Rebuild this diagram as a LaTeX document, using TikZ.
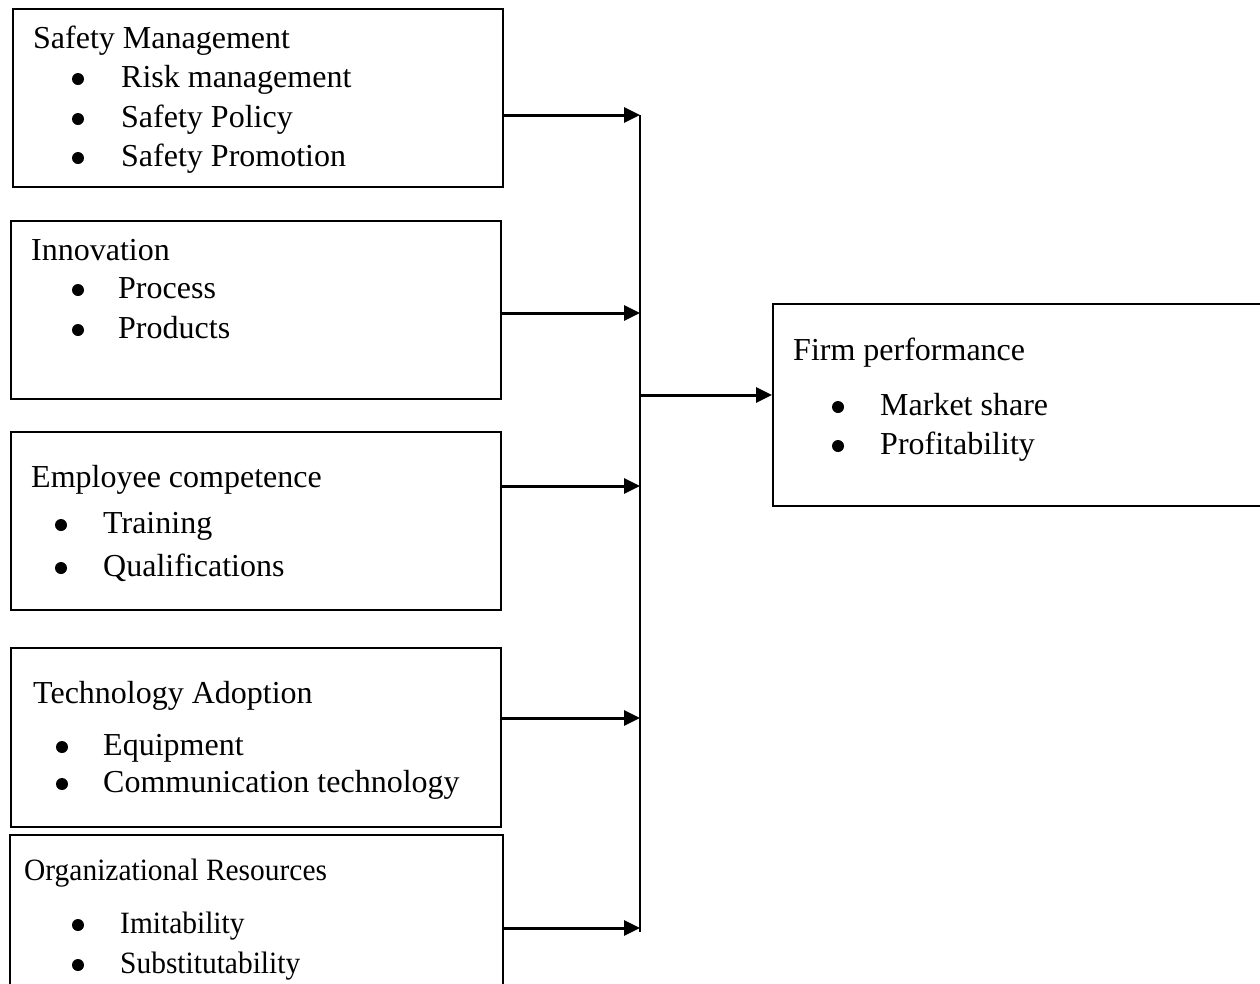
\documentclass[tikz,border=0pt]{standalone}
\usepackage{fontspec}
\setmainfont{Liberation Serif}
\newfontfamily\condfont[FakeStretch=0.95]{Liberation Serif}
\usetikzlibrary{arrows.meta}
\begin{document}
\begin{tikzpicture}[x=1pt,y=-1pt,
  box/.style={draw, line width=2.3pt, anchor=north west, inner sep=0pt},
  txt/.style={anchor=base west, inner sep=0pt, font=\fontsize{32}{38}\selectfont},
  stxt/.style={anchor=base west, inner sep=0pt, font=\condfont\fontsize{31}{36}\selectfont},
  bul/.style={circle, fill, inner sep=0pt, minimum size=12pt},
  link/.style={line width=3pt, -{Triangle[length=16pt,width=15pt]}},
  bus/.style={line width=2.3pt}]
\useasboundingbox (0,0) rectangle (1260,983);
\clip (0,0) rectangle (1260,983);

% boxes
\node[box, minimum width=490pt, minimum height=178pt] (b1) at (12,8) {};
\node[box, minimum width=490pt, minimum height=178pt] (b2) at (10,220) {};
\node[box, minimum width=490pt, minimum height=178pt] (b3) at (10,431) {};
\node[box, minimum width=490pt, minimum height=179pt] (b4) at (10,647) {};
\node[box, minimum width=493pt, minimum height=190pt] (b5) at (9,834) {};
\node[box, minimum width=510pt, minimum height=202pt] (firm) at (772,303) {};

% box 1
\node[txt] (t1) at (33,48) {Safety Management};
\node[bul] (d11) at (78,79) {};
\node[txt] (i11) at (121,87) {Risk management};
\node[bul] (d12) at (78,119) {};
\node[txt] (i12) at (121,127) {Safety Policy};
\node[bul] (d13) at (78,158) {};
\node[txt] (i13) at (121,166) {Safety Promotion};

% box 2
\node[txt] (t2) at (31,260) {Innovation};
\node[bul] (d21) at (78,290) {};
\node[txt] (i21) at (118,298) {Process};
\node[bul] (d22) at (78,330) {};
\node[txt] (i22) at (118,338) {Products};

% box 3
\node[txt] (t3) at (31,487) {Employee competence};
\node[bul] (d31) at (61,525) {};
\node[txt] (i31) at (103,533) {Training};
\node[bul] (d32) at (61,568) {};
\node[txt] (i32) at (103,576) {Qualifications};

% box 4
\node[txt] (t4) at (33,703) {Technology Adoption};
\node[bul] (d41) at (62,747) {};
\node[txt] (i41) at (103,755) {Equipment};
\node[bul] (d42) at (62,784) {};
\node[txt] (i42) at (103,792) {Communication technology};

% box 5
\node[stxt] (t5) at (24,880) {Organizational Resources};
\node[bul] (d51) at (78,925) {};
\node[stxt] (i51) at (120,933) {Imitability};
\node[bul] (d52) at (78,965) {};
\node[stxt] (i52) at (120,973) {Substitutability};

% firm performance
\node[txt] (tf) at (793,360) {Firm performance};
\node[bul] (df1) at (838,407) {};
\node[txt] (if1) at (880,415) {Market share};
\node[bul] (df2) at (838,446) {};
\node[txt] (if2) at (880,454) {Profitability};

% junction points
\coordinate (j1) at (640,115);
\coordinate (j2) at (640,313);
\coordinate (jm) at (640,395);
\coordinate (j3) at (640,486);
\coordinate (j4) at (640,718);
\coordinate (j5) at (640,928);
\coordinate (jb) at (640,932);

\draw[bus] (j1) -- (jb);
\draw[link] (b1.east |- j1) -- (j1);
\draw[link] (b2.east |- j2) -- (j2);
\draw[link] (b3.east |- j3) -- (j3);
\draw[link] (b4.east |- j4) -- (j4);
\draw[link] (b5.east |- j5) -- (j5);
\draw[link] (jm) -- (firm.west |- jm);
\end{tikzpicture}
\end{document}
